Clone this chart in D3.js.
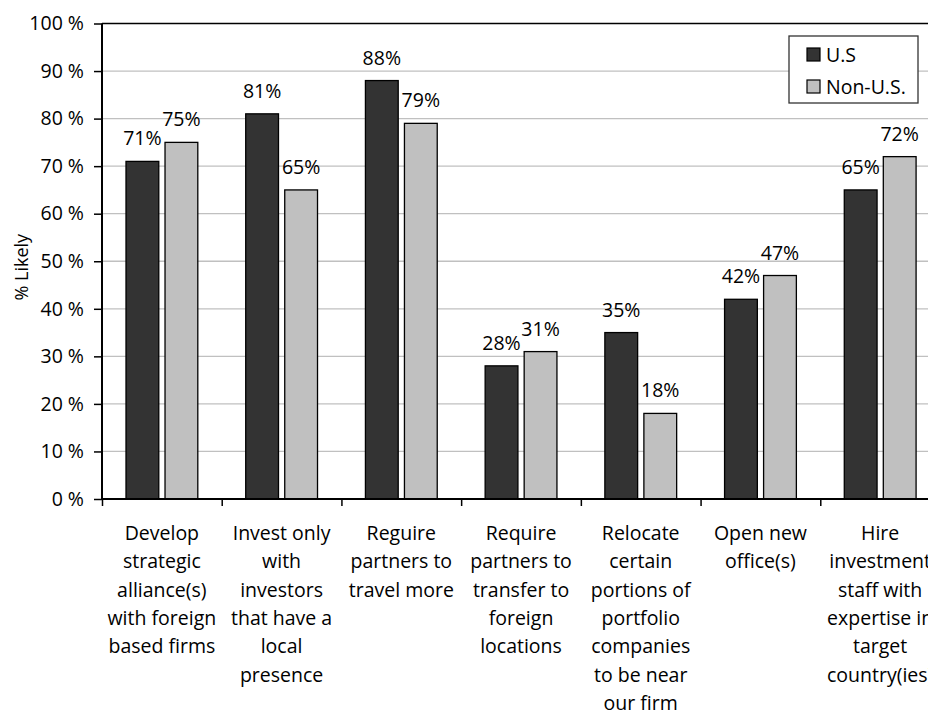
<!DOCTYPE html>
<html>
<head>
<meta charset="utf-8">
<script src="https://cdn.jsdelivr.net/npm/d3@7"></script>
<style>
  html, body { margin: 0; padding: 0; background: #fff; }
  svg { display: block; font-family: "Open Sans", sans-serif; }
</style>
</head>
<body>
<svg id="chart" width="928" height="713"></svg>
<script>
const categories = [
  ["Develop", "strategic", "alliance(s)", "with foreign", "based firms"],
  ["Invest only", "with", "investors", "that have a", "local", "presence"],
  ["Reguire", "partners to", "travel more"],
  ["Require", "partners to", "transfer to", "foreign", "locations"],
  ["Relocate", "certain", "portions of", "portfolio", "companies", "to be near", "our firm"],
  ["Open new", "office(s)"],
  ["Hire", "investment", "staff with", "expertise in", "target", "country(ies)"]
];
const seriesNames = ["U.S", "Non-U.S."];
const usValues = [71, 81, 88, 28, 35, 42, 65];
const nonUsValues = [75, 65, 79, 31, 18, 47, 72];
const yTicks = [0, 10, 20, 30, 40, 50, 60, 70, 80, 90, 100];
const yLabel = "% Likely";
const colors = ["#333333", "#c0c0c0"];

(function () {
const svg = d3.select("#chart");
const pLeft = 102, pRight = 940, pTop = 23.5, pBottom = 499;
const fs = 19.5;
const ink = "#000";

const x = d3.scaleBand().domain(d3.range(categories.length)).range([pLeft, pRight]).padding(0);
const inner = d3.scaleBand().domain(seriesNames).range([24, 95.8]).paddingInner(0.16).paddingOuter(0);
const y = d3.scaleLinear().domain([0, 100]).range([pBottom, pTop]);

// gridlines
svg.append("g").selectAll("line").data(yTicks.filter(t => t > 0 && t < 100)).join("line")
  .attr("x1", pLeft).attr("x2", pRight)
  .attr("y1", d => y(d)).attr("y2", d => y(d))
  .attr("stroke", "#c0c0c0").attr("stroke-width", 1.3);

// top border
svg.append("line").attr("x1", pLeft).attr("x2", pRight).attr("y1", y(100)).attr("y2", y(100))
  .attr("stroke", "#000").attr("stroke-width", 1.3);

// bars
const data = categories.map((c, i) => ({ i, vals: [usValues[i], nonUsValues[i]] }));
const groups = svg.append("g").selectAll("g").data(data).join("g")
  .attr("transform", d => `translate(${x(d.i)},0)`);
groups.selectAll("rect").data(d => d.vals.map((v, k) => ({ v, k }))).join("rect")
  .attr("x", d => inner(seriesNames[d.k]))
  .attr("width", inner.bandwidth())
  .attr("y", d => y(d.v))
  .attr("height", d => pBottom - y(d.v))
  .attr("fill", d => colors[d.k])
  .attr("stroke", "#000").attr("stroke-width", 1.3);
groups.selectAll("text").data(d => d.vals.map((v, k) => ({ v, k }))).join("text")
  .attr("x", d => inner(seriesNames[d.k]) + inner.bandwidth() / 2)
  .attr("y", d => y(d.v) - 16)
  .attr("text-anchor", "middle")
  .attr("font-size", fs).attr("fill", ink)
  .text(d => d.v + "%");

// y axis
const yAxis = d3.axisLeft(y).tickValues(yTicks).tickSize(8).tickPadding(10).tickFormat(d => d + " %");
const gy = svg.append("g").attr("transform", `translate(${pLeft},0)`).call(yAxis);
gy.select(".domain").attr("stroke", "#000").attr("stroke-width", 2).attr("d", `M0,${pTop}V${pBottom}`);
gy.selectAll(".tick line").attr("stroke", "#000").attr("stroke-width", 1.5);
gy.selectAll(".tick text").attr("font-size", fs).attr("font-family", "Open Sans, sans-serif").attr("fill", ink);

// x axis with ticks at band boundaries
const boundaries = d3.range(categories.length + 1).map(i => pLeft + i * x.step());
const xb = d3.scaleLinear().domain([pLeft, pRight]).range([pLeft, pRight]);
const xAxis = d3.axisBottom(xb).tickValues(boundaries).tickSize(7).tickFormat("");
const gx = svg.append("g").attr("transform", `translate(0,${pBottom})`).call(xAxis);
gx.select(".domain").attr("stroke", "#000").attr("stroke-width", 2).attr("d", `M${pLeft},0H${pRight}`);
gx.selectAll(".tick line").attr("stroke", "#000").attr("stroke-width", 1.5);

// category labels
const lab = svg.append("g").selectAll("text").data(categories).join("text")
  .attr("text-anchor", "middle")
  .attr("font-size", fs).attr("fill", ink)
  .attr("transform", (d, i) => `translate(${x(i) + x.bandwidth() / 2},540)`);
lab.selectAll("tspan").data(d => d).join("tspan")
  .attr("x", 0).attr("y", (d, j) => j * 28.3)
  .text(d => d);

// y label
svg.append("text")
  .attr("transform", `translate(28,${(pTop + pBottom) / 2 + 6}) rotate(-90)`)
  .attr("text-anchor", "middle").attr("font-size", 18).attr("fill", ink)
  .text(yLabel);

// legend
const lg = svg.append("g").attr("transform", "translate(789,36)");
lg.append("rect").attr("width", 129).attr("height", 67).attr("fill", "#fff")
  .attr("stroke", "#333").attr("stroke-width", 1.3);
const items = lg.selectAll("g").data(seriesNames).join("g")
  .attr("transform", (d, i) => `translate(18,${12 + i * 32})`);
items.append("rect").attr("width", 13).attr("height", 13)
  .attr("fill", (d, i) => colors[i]).attr("stroke", "#000").attr("stroke-width", 1.2);
items.append("text").attr("x", 19).attr("y", 14).attr("font-size", fs).attr("fill", ink).text(d => d);
})();
</script>
</body>
</html>
